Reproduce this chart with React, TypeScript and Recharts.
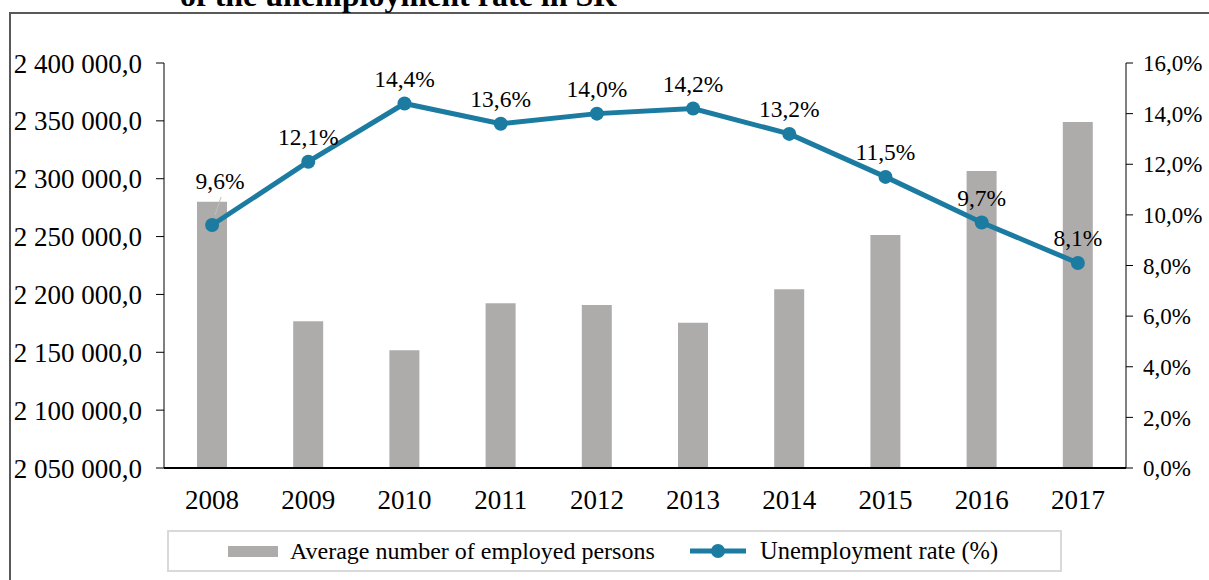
import React from 'react';
import {
  ComposedChart,
  Bar,
  Line,
  XAxis,
  YAxis,
  LabelList,
} from 'recharts';

const years = ['2008', '2009', '2010', '2011', '2012', '2013', '2014', '2015', '2016', '2017'];
const employedPersons = [2280000, 2176800, 2151700, 2192300, 2190900, 2175600, 2204400, 2251400, 2306700, 2349000];
const unemploymentRate = [9.6, 12.1, 14.4, 13.6, 14.0, 14.2, 13.2, 11.5, 9.7, 8.1];
const employedTicks = [2050000, 2100000, 2150000, 2200000, 2250000, 2300000, 2350000, 2400000];
const rateTicks = [0, 2, 4, 6, 8, 10, 12, 14, 16];

const seriesNames = ['Average number of employed persons', 'Unemployment rate (%)'];
const chartTitle = 'of the unemployment rate in SR';

const data = years.map((year, i) => ({
  year,
  employed: employedPersons[i],
  rate: unemploymentRate[i],
}));

const FONT = '"Liberation Serif", "Times New Roman", serif';
const BAR_COLOR = '#AEABAB';
const LINE_COLOR = '#1B7BA0';

const fmtEmployed = (v: number) => {
  const s = Math.round(v).toString();
  return s.replace(/\B(?=(\d{3})+(?!\d))/g, ' ') + ',0';
};
const fmtRate = (v: number) => v.toFixed(1).replace('.', ',') + '%';

// excel pushed the first label up with a leader line because of the bar
const RateLabel = (props: any) => {
  const { x, y, value, index } = props;
  if (index === 0) {
    return (
      <g>
        <line x1={x + 9} y1={y - 28} x2={x + 3} y2={y - 10} stroke="#BFBFBF" strokeWidth={1} />
        <text x={x + 8} y={y - 44} dy="0.35em" textAnchor="middle" fontSize={23.5} fontFamily={FONT} fill="#000">
          {fmtRate(value)}
        </text>
      </g>
    );
  }
  return (
    <text x={x} y={y - 25} dy="0.35em" textAnchor="middle" fontSize={23.5} fontFamily={FONT} fill="#000">
      {fmtRate(value)}
    </text>
  );
};

export default function App() {
  return (
    <div style={{ position: 'absolute', left: 0, top: 0, width: 1209, height: 580, overflow: 'hidden', background: '#fff' }}>
      <div
        style={{
          position: 'absolute',
          left: 9,
          top: 12,
          width: 1400,
          height: 800,
          borderLeft: '2px solid #595959',
          borderTop: '2px solid #595959',
        }}
      />
      <div
        style={{
          position: 'absolute',
          left: 180,
          top: -21,
          fontFamily: FONT,
          fontWeight: 'bold',
          fontSize: 32,
          lineHeight: '32px',
          whiteSpace: 'nowrap',
          color: '#000',
        }}
      >
        {chartTitle}
      </div>

      <div style={{ position: 'absolute', left: 0, top: 0 }}>
        <ComposedChart width={1209} height={580} data={data} margin={{ top: 63, right: 0, left: 0, bottom: 82 }}>
          <XAxis
            dataKey="year"
            height={30}
            axisLine={{ stroke: '#000', strokeWidth: 2 }}
            tickLine={false}
            tickSize={0}
            tickMargin={22}
            tick={{ fontSize: 27, fontFamily: FONT, fill: '#000' }}
          />
          <YAxis
            yAxisId="left"
            width={164}
            domain={[2050000, 2400000]}
            ticks={employedTicks}
            tickFormatter={fmtEmployed}
            axisLine={{ stroke: '#000' }}
            tickLine={{ stroke: '#000' }}
            tickSize={8}
            tickMargin={14}
            interval={0}
            tick={{ fontSize: 27, fontFamily: FONT, fill: '#000' }}
          />
          <YAxis
            yAxisId="right"
            orientation="right"
            width={83}
            domain={[0, 16]}
            ticks={rateTicks}
            tickFormatter={fmtRate}
            axisLine={{ stroke: '#000' }}
            tickLine={{ stroke: '#000' }}
            tickSize={7}
            tickMargin={10}
            interval={0}
            tick={{ fontSize: 23, fontFamily: FONT, fill: '#000' }}
          />
          <Bar yAxisId="left" dataKey="employed" fill={BAR_COLOR} barSize={30} isAnimationActive={false} />
          <Line
            yAxisId="right"
            dataKey="rate"
            stroke={LINE_COLOR}
            strokeWidth={5}
            dot={{ r: 7, fill: LINE_COLOR, stroke: 'none' }}
            activeDot={false}
            isAnimationActive={false}
          >
            <LabelList dataKey="rate" content={RateLabel} />
          </Line>
        </ComposedChart>
      </div>

      <div
        style={{
          position: 'absolute',
          left: 167,
          top: 530,
          width: 895,
          height: 42,
          boxSizing: 'border-box',
          border: '2px solid #D9D9D9',
          fontFamily: FONT,
          fontSize: 24,
          color: '#000',
        }}
      >
        <div style={{ position: 'absolute', left: 59, top: 14, width: 50, height: 11, background: BAR_COLOR }} />
        <div style={{ position: 'absolute', left: 121, top: 5, lineHeight: '28px', whiteSpace: 'nowrap' }}>{seriesNames[0]}</div>
        <svg style={{ position: 'absolute', left: 521, top: 8 }} width={56} height={22}>
          <line x1={0} y1={11} x2={56} y2={11} stroke={LINE_COLOR} strokeWidth={5} />
          <circle cx={28} cy={11} r={7} fill={LINE_COLOR} />
        </svg>
        <div style={{ position: 'absolute', left: 591, top: 5, lineHeight: '28px', whiteSpace: 'nowrap', fontSize: 24.5 }}>{seriesNames[1]}</div>
      </div>
    </div>
  );
}
